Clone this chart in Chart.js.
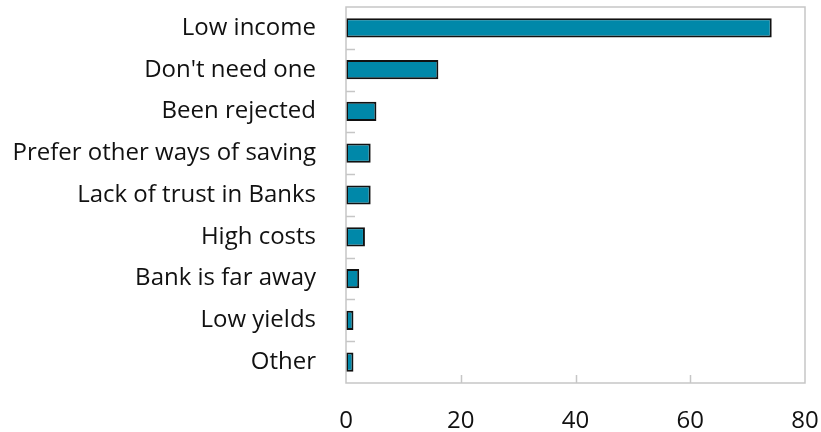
<!DOCTYPE html>
<html>
<head>
<meta charset="utf-8">
<script src="https://cdn.jsdelivr.net/npm/chart.js@4/dist/chart.umd.min.js"></script>
<style>
  html, body { margin: 0; padding: 0; background: #ffffff; }
  #wrap { width: 821px; height: 432px; }
</style>
</head>
<body>
<div id="wrap"><canvas id="reasonsChart" width="821" height="432"></canvas></div>
<script>
const reasons = [
  'Low income',
  "Don't need one",
  'Been rejected',
  'Prefer other ways of saving',
  'Lack of trust in Banks',
  'High costs',
  'Bank is far away',
  'Low yields',
  'Other'
];
const shares = [74.2, 16.1, 5.3, 4.3, 4.3, 3.3, 2.3, 1.3, 1.3];
const xTicks = [0, 20, 40, 60, 80];

// frame around the plot plus short inward tick marks
const frameTicks = {
  id: 'frameTicks',
  afterDraw(chart) {
    const { ctx, chartArea: a, scales } = chart;
    ctx.save();
    ctx.strokeStyle = '#c6c6c6';
    ctx.lineWidth = 1.5;
    ctx.strokeRect(a.left, a.top, a.right - a.left, a.bottom - a.top);
    ctx.lineWidth = 1.5;
    ctx.beginPath();
    xTicks.slice(1, -1).forEach((v) => {
      const x = Math.round(scales.x.getPixelForValue(v)) + 0.5;
      ctx.moveTo(x, a.bottom);
      ctx.lineTo(x, a.bottom - 8);
    });
    for (let i = 0; i < reasons.length - 1; i++) {
      const y = (scales.y.getPixelForValue(i) + scales.y.getPixelForValue(i + 1)) / 2;
      ctx.moveTo(a.left, Math.round(y) + 0.5);
      ctx.lineTo(a.left + 9, Math.round(y) + 0.5);
    }
    ctx.stroke();
    ctx.restore();
  }
};

new Chart(document.getElementById('reasonsChart'), {
  type: 'bar',
  data: {
    labels: reasons,
    datasets: [{
      data: shares,
      backgroundColor: '#0088a9',
      borderColor: '#111111',
      borderWidth: 2,
      borderSkipped: false,
      categoryPercentage: 1,
      barPercentage: 0.46
    }]
  },
  options: {
    indexAxis: 'y',
    responsive: false,
    animation: false,
    layout: { padding: { top: 7, right: 16, left: 0, bottom: 0 } },
    plugins: {
      legend: { display: false },
      tooltip: { enabled: false }
    },
    scales: {
      x: {
        min: 0,
        max: 80,
        afterBuildTicks: (scale) => { scale.ticks = xTicks.map((v) => ({ value: v })); },
        afterFit: (scale) => {
          scale.height = 49;
          scale.paddingLeft = 0;
          scale.paddingRight = 0;
        },
        grid: { display: false, drawTicks: false },
        border: { display: false },
        ticks: {
          color: '#111111',
          padding: 24,
          font: { family: 'Open Sans', size: 24 }
        }
      },
      y: {
        afterFit: (scale) => {
          scale.width = 346;
          scale.paddingTop = 0;
          scale.paddingBottom = 0;
        },
        grid: { display: false, drawTicks: false },
        border: { display: false },
        ticks: {
          color: '#111111',
          padding: 30,
          font: { family: 'Open Sans', size: 24 }
        }
      }
    }
  },
  plugins: [frameTicks]
});
</script>
</body>
</html>
